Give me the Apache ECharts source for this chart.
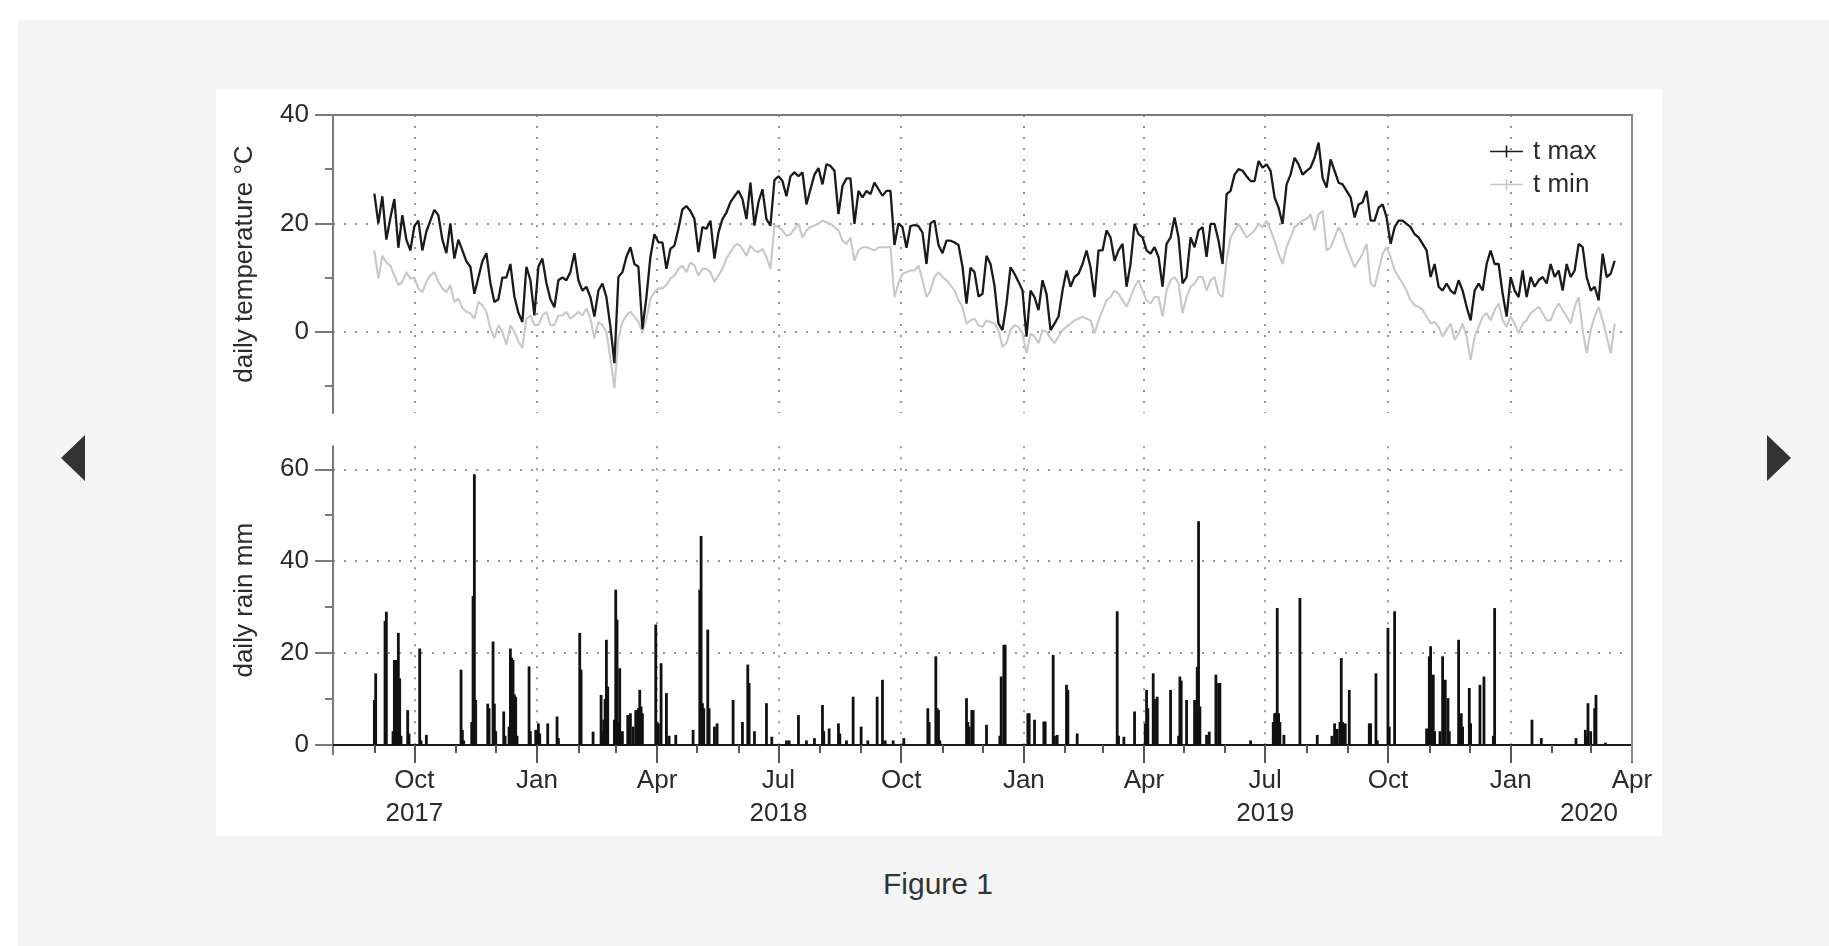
<!DOCTYPE html>
<html><head><meta charset="utf-8">
<script src="https://cdn.jsdelivr.net/npm/echarts@6/dist/echarts.min.js"></script>
<style>
html,body{margin:0;padding:0;background:#fff;width:1829px;height:946px;overflow:hidden;font-family:'Liberation Sans',Arial,sans-serif;}
#gray{position:absolute;left:18px;top:20px;width:1811px;height:926px;background:#f4f4f4;}
#fig{position:absolute;left:216px;top:89px;width:1446px;height:747px;background:#fff;}
.arr{position:absolute;width:0;height:0;border-top:23px solid transparent;border-bottom:23px solid transparent;}
#al{left:61px;top:435px;border-right:24px solid #333;}
#ar{left:1767px;top:435px;border-left:24px solid #333;}
#cap{position:absolute;left:788px;width:300px;top:868px;line-height:32px;text-align:center;font-size:30px;color:#333;}
#chart{position:absolute;left:0;top:0;width:1829px;height:946px;}
</style></head>
<body>
<div id="gray"></div>
<div id="fig"></div>
<div class="arr" id="al"></div>
<div class="arr" id="ar"></div>
<div id="cap">Figure 1</div>
<div id="chart"></div>
<script>
// ---- data ----
const axisStart = '2017-08-01';
const axisEnd = '2020-04-01';
const tStart = [2017, 8, 1];   // 1 Sep 2017 (year, monthIndex, day)
const tStepDays = 3;           // one reading every 3 days
const tMax = [
25.5,20,25,17,21,24.5,15.5,21.5,17,15,
19.5,20.5,15,18.5,20.5,22.5,21.5,17,14.5,20,
13.5,17,15,13,12,7,10,13,14.5,9,
5.5,6,10,10,12.5,6.5,3.5,1.8,12,9.5,
3,12,13.5,9,6,4.5,9.5,10,9.5,11,
14.5,9.5,7.6,8.3,6.4,2.8,7.6,8.9,6.4,0.9,
-5.8,10.1,11,13.8,15.6,12.5,12,0.5,6.4,13.8,
18,16.5,16.5,11.6,15.3,15.9,19,22.6,23.2,22.3,
20.8,14.7,19.3,19,20.5,13.5,18.3,20.8,22,23.9,
25,26,24.5,20.8,27.5,19.6,23.9,26.3,20.8,19.6,
28,28.7,27.8,25,28.7,29.4,28.7,29.4,23.5,26.3,
29,30.2,27.2,30.9,30.6,29.7,21.7,26.9,28.3,28.3,
19.9,26,24.8,26,25.4,27.5,26.3,25.1,26,26,
16,20,19.3,15.5,19.5,19.7,19.5,18.3,12.5,20,
20.5,16,14.5,16.8,16.8,16.5,16,12,5.2,11.8,
11,6.5,7,14,12.5,8.5,1.5,0.3,5.2,11.9,
10.7,9.2,7.6,-0.9,7.6,6.4,4,9.5,7,0.3,
1.5,2.8,7.6,11.3,8.3,10.1,10.7,12.5,15,11.9,
6.4,15,15,18.7,17.4,13.1,15,16.2,8.3,12.5,
19.9,18,17.4,15,14.4,15.6,13.8,8.3,16.2,17.4,
21.1,17.4,8.9,10.1,17.4,15.6,18.7,19.3,13.8,19.9,
19.9,16.8,12.5,25.4,26,29,30,29.7,28.7,27.8,
27.8,31.5,30.3,30.9,29.7,24.8,22.9,19.9,27.2,29,
32.1,30.9,29,29.7,30.3,32.1,34.9,28.4,26.6,31.8,
29.7,27.5,27.2,26,24.8,21.1,23.5,23.9,26,20.5,
20.5,22.9,23.5,21.1,16.2,19.3,20.5,20.5,19.9,19.3,
18,17.4,16.2,15,10.1,12.5,8.3,7.6,8.9,7.6,
7,9.5,7.6,4.6,2.1,7.6,8.9,7.6,12.5,15,
12.5,12.5,7,2.8,10.1,7.6,6.4,11.3,6.4,10.1,
8.3,9.5,10.1,8.9,12.5,10.1,11.3,7.6,12.5,10.1,
11.3,16.2,15.6,10.1,7.6,8.3,5.8,14.4,10.1,10.7,13.1
];
const tMin = [
15,9.8,14,12.8,12.2,10.4,8.6,9.2,11,9.8,
10,8,7.3,9.2,10.4,11,9.2,8,7.3,8.6,
5.5,6.1,4.3,3.7,3.4,2.4,5.5,4.9,3.7,0.6,
-1.2,1.2,0,-2.4,1.2,0,-1.8,-3,2.4,3,
1.2,1.2,3,3.7,1.2,1.2,3,3,3.7,2.4,
3,3.7,3,4.3,2.4,-1.2,1.8,1.2,0,-4.9,
-10.4,-1.2,1.8,3,3.7,2.8,1.8,0,2.4,6.1,
7.3,8,8,8.6,9.8,10.4,11.6,12.2,11,12.8,
12.2,10.4,11.6,11.6,11,9.2,10.4,11.6,13.5,14.7,
15.9,16.2,15.3,14,15.9,15,14.7,15.3,13.8,11.6,
19.6,19.3,18.7,17.7,18,19,19.9,17.4,18.7,19.3,
19.6,19.9,20.5,20.2,19.9,19.3,18.7,16.8,16.2,17.4,
13.1,15,15.6,15.6,15.3,15,15.6,15.6,15.6,15.6,
6.4,8.9,10.7,11,11.3,11.3,12.2,9.5,6.4,7.6,
10.1,11,10.1,9.5,8.6,7.6,5.8,4.6,1.5,2.1,
2.4,1.2,0.9,2.1,1.8,1.5,0.3,-2.8,-2.1,0.3,
1.2,0.9,-0.3,-4,-0.3,-0.9,-2.1,0.3,0,-1.2,
-2.1,-0.9,0.3,0.9,1.5,2.1,2.4,2.8,2.4,2.1,
-0.3,2.1,4,5.8,6.4,7.6,7,5.8,4.6,6.4,
8.3,9.5,7.6,5.8,5.2,6.4,6.4,2.8,7.6,9.5,
10.1,8.9,3.4,6.4,8.3,8.9,10.1,10.1,7.6,9.5,
10.1,7,6.4,13.1,17.4,18.7,19.9,18.7,17.4,18,
18.7,19.9,19.3,20.5,18.7,16.8,14.4,12.5,15.6,17.4,
19.3,19.9,20.5,20.8,21.7,18.7,21.7,22.3,15,15.6,
17.4,19.3,18,15.6,13.8,11.9,13.1,14.4,16.2,8.9,
8.3,11.3,14.4,15.6,13.8,11.3,10.1,8.9,7.6,5.8,
4.9,4.6,4,2.8,1.5,1.8,0.9,-0.9,0.3,1.5,
-1.5,-0.3,1.5,-0.9,-5.2,-0.9,0.9,2.8,3.4,2.1,
4,5.2,2.1,0.9,2.8,1.5,-0.3,1.5,2.1,3.4,
4,4.6,3.4,2.1,2.1,4,5.2,4,2.8,1.5,
4.6,6.4,0.3,-4,0.3,2.8,4.6,2.1,-0.9,-4,1.5
];
const rainEvents = [
['2017-09-01',9.8],['2017-09-02',15.6],['2017-09-09',27],['2017-09-10',29],['2017-09-15',3],['2017-09-16',18.5],
['2017-09-17',18.5],['2017-09-18',3],['2017-09-19',24.4],['2017-09-20',14.5],['2017-09-21',2],['2017-09-26',7.6],
['2017-09-27',2.5],['2017-10-05',21],['2017-10-06',1],['2017-10-10',2.2],
['2017-11-05',16.4],['2017-11-06',3.3],['2017-11-07',1],['2017-11-13',5],['2017-11-14',32.4],['2017-11-15',58.9],
['2017-11-16',9.8],['2017-11-25',9],['2017-11-26',8],['2017-11-29',22.5],['2017-11-30',9],
['2017-12-01',3],['2017-12-07',7.3],['2017-12-08',2],['2017-12-11',4],['2017-12-12',21],['2017-12-13',19],
['2017-12-14',18.5],['2017-12-15',11],['2017-12-16',10.5],['2017-12-17',2],['2017-12-26',17.1],['2017-12-27',3],['2017-12-31',3.3],
['2018-01-02',4.7],['2018-01-03',2.5],['2018-01-09',4.7],['2018-01-16',6.2],['2018-01-17',1.5],['2018-02-02',24.4],
['2018-02-03',16.4],['2018-02-12',2.9],['2018-02-18',10.9],['2018-02-19',3],['2018-02-20',5.5],['2018-02-21',10],
['2018-02-22',22.9],['2018-02-23',12.7],['2018-02-28',5.5],
['2018-03-01',33.8],['2018-03-02',27.3],['2018-03-03',5],['2018-03-04',16.7],['2018-03-06',3],['2018-03-10',6.5],
['2018-03-12',6.9],['2018-03-14',4],['2018-03-16',7.6],['2018-03-17',7],['2018-03-18',8],['2018-03-19',12],
['2018-03-20',8.4],['2018-03-21',6.9],['2018-03-31',26.2],
['2018-04-01',5],['2018-04-02',4.7],['2018-04-04',17.8],['2018-04-08',11.3],['2018-04-10',2],['2018-04-15',2.2],
['2018-04-28',3.3],['2018-05-03',33.8],['2018-05-04',45.5],['2018-05-05',9.1],['2018-05-06',8],['2018-05-09',25.1],
['2018-05-10',8],['2018-05-14',4],['2018-05-16',4.7],['2018-05-28',9.8],
['2018-06-04',5],['2018-06-08',17.5],['2018-06-09',13.5],['2018-06-13',3],['2018-06-22',9.1],['2018-06-26',1.8],
['2018-07-07',1],['2018-07-09',1],['2018-07-16',6.5],['2018-07-22',1],['2018-07-28',1.5],
['2018-08-03',8.7],['2018-08-04',3],['2018-08-08',3.6],['2018-08-15',4.7],['2018-08-16',2.5],['2018-08-21',1],
['2018-08-26',10.5],['2018-09-01',4],['2018-09-06',1],['2018-09-13',10.5],['2018-09-17',14.2],['2018-09-19',1],
['2018-09-25',1],['2018-10-03',1.5],
['2018-10-21',8],['2018-10-22',5],['2018-10-27',19.3],['2018-10-28',8],['2018-10-29',7.6],['2018-10-30',1],
['2018-11-19',10.2],['2018-11-20',5],['2018-11-21',4],['2018-11-23',7.6],['2018-11-24',7.6],['2018-12-04',4.4],
['2018-12-14',2],['2018-12-15',14.9],['2018-12-17',21.8],['2018-12-18',21.8],
['2019-01-04',6.9],['2019-01-05',6.9],['2019-01-09',5.5],['2019-01-16',5.1],['2019-01-17',5.1],['2019-01-23',19.6],
['2019-01-24',2],['2019-01-26',2.2],['2019-02-02',13.1],['2019-02-03',12],['2019-02-10',2.5],['2019-03-12',29.1],
['2019-03-13',2],['2019-03-17',1.8],['2019-03-25',7.3],
['2019-04-02',4.7],['2019-04-03',12],['2019-04-04',8],['2019-04-08',15.6],['2019-04-09',10],['2019-04-11',10.5],
['2019-04-21',12],['2019-04-27',2],['2019-04-28',14.9],['2019-04-29',14],['2019-05-03',9.8],['2019-05-09',9.8],
['2019-05-11',17],['2019-05-12',48.7],['2019-05-13',8.4],['2019-05-18',2.2],['2019-05-20',2.9],['2019-05-25',15.3],
['2019-05-27',13.5],['2019-05-28',13.5],
['2019-06-20',1],['2019-07-07',5],['2019-07-08',6.9],['2019-07-09',7],['2019-07-10',29.8],['2019-07-11',6.9],
['2019-07-12',5],['2019-07-15',2.2],['2019-07-27',32],
['2019-08-09',2.2],['2019-08-20',2],['2019-08-22',4.7],['2019-08-24',3.5],['2019-08-26',5],['2019-08-27',18.9],
['2019-08-28',5],['2019-08-30',4.7],['2019-09-02',12],['2019-09-17',4.7],['2019-09-18',4.7],['2019-09-22',15.6],['2019-09-23',1],
['2019-10-01',25.5],['2019-10-02',4],['2019-10-06',29.1],['2019-10-30',3.6],['2019-11-01',19.3],['2019-11-02',21.5],
['2019-11-03',9.8],['2019-11-04',15.3],['2019-11-05',3],['2019-11-09',3],['2019-11-11',19.3],['2019-11-12',9],
['2019-11-13',14.2],['2019-11-15',10.2],['2019-11-16',3],['2019-11-23',22.9],['2019-11-25',6.9],['2019-11-26',4],
['2019-12-01',12.4],['2019-12-02',4.7],['2019-12-09',13.1],['2019-12-12',14.9],['2019-12-19',2],['2019-12-20',29.8],
['2020-01-17',5.5],['2020-01-24',1.5],['2020-02-19',1.5],['2020-02-26',3.3],['2020-02-27',2],['2020-02-28',9.1],
['2020-03-01',3],['2020-03-04',8],['2020-03-05',10.9],['2020-03-12',0.5]
];
const quarterTicks = ['2017-10-01','2018-01-01','2018-04-01','2018-07-01','2018-10-01','2019-01-01','2019-04-01','2019-07-01','2019-10-01','2020-01-01','2020-04-01'];
const quarterLabels = ['Oct\n2017','Jan','Apr','Jul\n2018','Oct','Jan','Apr','Jul\n2019','Oct','Jan','Apr\n{sh|2020}'];
const tempMajorTicks = [0, 20, 40];
const tempMinorTicks = [-10, 10, 30];
const rainMajorTicks = [0, 20, 40, 60];
const rainMinorTicks = [10, 30, 50];
const seriesNames = ['t max', 't min'];

// ---- build ----
function ts(s){const p=s.split('-').map(Number);return new Date(p[0],p[1]-1,p[2]).getTime();}
const xMin = ts(axisStart), xMax = ts(axisEnd);
const quarterVals = quarterTicks.map(ts);
const monthVals = [];
for (let k = 1; k <= 31; k++) monthVals.push(new Date(2017, 7 + k, 1).getTime());
const tDates = tMax.map((_, i) => new Date(tStart[0], tStart[1], tStart[2] + tStepDays * i).getTime());
const FONT = "'Liberation Sans', Arial, sans-serif";
const TXT = '#2b2b2b';
const AX = '#7a7a7a';
const dotted = {show: true, lineStyle: {color: '#969696', width: 2, type: [2, 9]}};

function qLabel(v){
  let best = -1, bd = Infinity;
  quarterVals.forEach((q, i) => { const d = Math.abs(q - v); if (d < bd) { bd = d; best = i; } });
  return bd < 2 * 86400000 ? quarterLabels[best] : '';
}

const chart = echarts.init(document.getElementById('chart'));
chart.setOption({
  animation: false,
  textStyle: {fontFamily: FONT},
  grid: [
    {left: 333, top: 115, width: 1299, height: 298},
    {left: 333, top: 446.3, width: 1299, height: 307.9}
  ],
  legend: {
    data: seriesNames, orient: 'vertical', left: 1490, top: 138.5, padding: 0,
    itemWidth: 33, itemHeight: 12, itemGap: 7, selectedMode: false,
    icon: 'path://M0,5.25H33V6.75H0Z M15.75,0H17.25V12H15.75Z',
    textStyle: {fontSize: 26, color: TXT, fontFamily: FONT, padding: [0, 0, 0, 5]}
  },
  xAxis: [
    {type: 'value', gridIndex: 0, min: xMin, max: xMax, position: 'top',
     axisLine: {show: true, onZero: false, lineStyle: {color: AX, width: 2}},
     axisTick: {show: false, customValues: quarterVals},
     axisLabel: {show: false, customValues: quarterVals},
     splitLine: dotted},
    {type: 'value', gridIndex: 1, min: xMin, max: xMax, position: 'bottom',
     axisLine: {show: true, onZero: true, lineStyle: {color: '#1a1a1a', width: 2}},
     axisTick: {show: true, customValues: quarterVals, length: 18, lineStyle: {color: '#555', width: 2}},
     axisLabel: {show: true, customValues: quarterVals, margin: 10, fontSize: 26, lineHeight: 33, color: TXT,
       fontFamily: FONT, formatter: qLabel,
       rich: {sh: {fontSize: 26, lineHeight: 33, color: TXT, fontFamily: FONT, padding: [0, 86, 0, 0]}}},
     splitLine: dotted},
    {type: 'value', gridIndex: 1, min: xMin, max: xMax, position: 'bottom',
     axisLine: {show: false, onZero: true},
     axisTick: {show: true, customValues: monthVals, length: 8, lineStyle: {color: '#555', width: 2}},
     axisLabel: {show: false, customValues: monthVals},
     splitLine: {show: false}}
  ],
  yAxis: [
    {type: 'value', gridIndex: 0, min: -15, max: 40, position: 'left',
     name: 'daily temperature °C', nameLocation: 'middle', nameGap: 75,
     nameTextStyle: {fontSize: 26, color: TXT, fontFamily: FONT},
     axisLine: {show: true, onZero: false, lineStyle: {color: AX, width: 2}},
     axisTick: {show: true, customValues: tempMajorTicks, length: 18, lineStyle: {color: AX, width: 2}},
     axisLabel: {show: true, customValues: tempMajorTicks, margin: 24, fontSize: 26, color: TXT, fontFamily: FONT},
     splitLine: dotted},
    {type: 'value', gridIndex: 0, min: -15, max: 40, position: 'left',
     axisLine: {show: false, onZero: false},
     axisTick: {show: true, customValues: tempMinorTicks, length: 8, lineStyle: {color: AX, width: 2}},
     axisLabel: {show: false, customValues: tempMinorTicks}, splitLine: {show: false}},
    {type: 'value', gridIndex: 1, min: -2, max: 65, position: 'left',
     name: 'daily rain mm', nameLocation: 'middle', nameGap: 75,
     nameTextStyle: {fontSize: 26, color: TXT, fontFamily: FONT},
     axisLine: {show: true, onZero: false, lineStyle: {color: AX, width: 2}},
     axisTick: {show: true, customValues: rainMajorTicks, length: 18, lineStyle: {color: AX, width: 2}},
     axisLabel: {show: true, customValues: rainMajorTicks, margin: 24, fontSize: 26, color: TXT, fontFamily: FONT},
     splitLine: dotted},
    {type: 'value', gridIndex: 1, min: -2, max: 65, position: 'left',
     axisLine: {show: false, onZero: false},
     axisTick: {show: true, customValues: rainMinorTicks, length: 8, lineStyle: {color: AX, width: 2}},
     axisLabel: {show: false, customValues: rainMinorTicks}, splitLine: {show: false}}
  ],
  graphic: [
    {type: 'line', silent: true, z: 10, shape: {x1: 1632, y1: 114, x2: 1632, y2: 762},
     style: {stroke: '#8a8a8a', lineWidth: 2}}
  ],
  series: [
    {name: seriesNames[1], type: 'line', xAxisIndex: 0, yAxisIndex: 0, showSymbol: false, symbol: 'none',
     color: '#c8c8c8', lineStyle: {color: '#c8c8c8', width: 2.1}, z: 2,
     data: tMin.map((v, i) => [tDates[i], v])},
    {name: seriesNames[0], type: 'line', xAxisIndex: 0, yAxisIndex: 0, showSymbol: false, symbol: 'none',
     color: '#1a1a1a', lineStyle: {color: '#1a1a1a', width: 2.3}, z: 3,
     data: tMax.map((v, i) => [tDates[i], v])},
    {name: 'rain', type: 'bar', xAxisIndex: 1, yAxisIndex: 2, barWidth: 2.8,
     itemStyle: {color: '#111'},
     data: rainEvents.map(e => [ts(e[0]), e[1]])}
  ]
});
</script>
</body></html>
